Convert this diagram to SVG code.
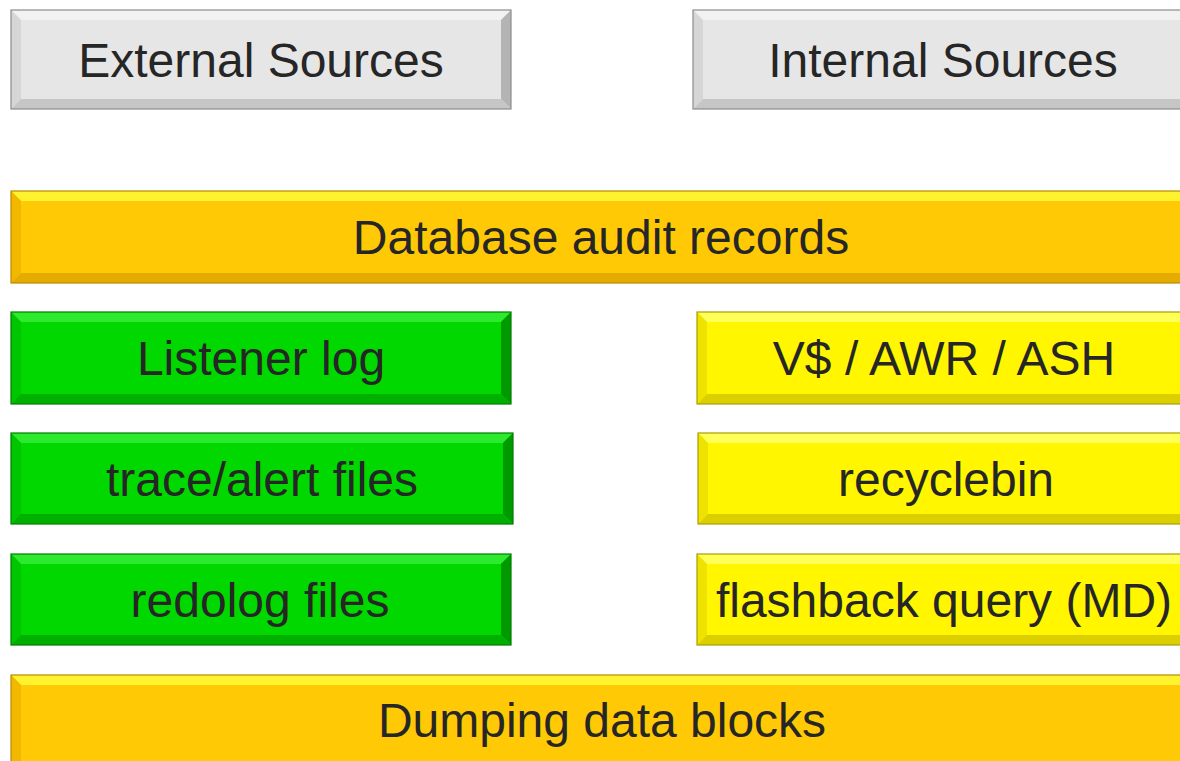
<svg xmlns="http://www.w3.org/2000/svg" width="1180" height="761" viewBox="0 0 1180 761">
  <style>
    text { font-family: "Liberation Sans", Arial, sans-serif; font-size: 48px; fill: #262626; text-anchor: middle; }
    .grey .base { fill: #e6e6e6; } .grey .top { fill: #f2f2f2; } .grey .left { fill: #d6d6d6; } .grey .right { fill: #b4b4b4; } .grey .bottom { fill: #c6c6c6; } .grey .edge { fill: none; stroke: #8c8c8c; stroke-width: 1.2; }
    .orange .base { fill: #ffc905; } .orange .top { fill: #fff22e; } .orange .left { fill: #f2b800; } .orange .right { fill: #d6a000; } .orange .bottom { fill: #e4ab00; } .orange .edge { fill: none; stroke: #b88a00; stroke-width: 1.2; }
    .green .base { fill: #00d800; } .green .top { fill: #2eea2e; } .green .left { fill: #00c600; } .green .right { fill: #009a00; } .green .bottom { fill: #00b000; } .green .edge { fill: none; stroke: #007c00; stroke-width: 1.2; }
    .yellow .base { fill: #fff600; } .yellow .top { fill: #ffff5a; } .yellow .left { fill: #eee200; } .yellow .right { fill: #c8bc00; } .yellow .bottom { fill: #dccf00; } .yellow .edge { fill: none; stroke: #a89e00; stroke-width: 1.2; }
  </style>

  <!-- beveled boxes: base, four bevel faces, outline, label -->
  <g id="external-sources" class="grey">
    <rect class="base" x="11" y="10" width="500" height="99"/>
    <polygon class="top" points="11,10 511,10 501,20 21,20"/>
    <polygon class="left" points="11,10 21,20 21,99 11,109"/>
    <polygon class="right" points="511,10 511,109 501,99 501,20"/>
    <polygon class="bottom" points="11,109 511,109 501,99 21,99"/>
    <rect class="edge" x="11" y="10" width="500" height="99"/>
    <text x="261" y="77">External Sources</text>
  </g>

  <g id="internal-sources" class="grey">
    <rect class="base" x="693" y="10" width="497" height="99"/>
    <polygon class="top" points="693,10 1190,10 1180,20 703,20"/>
    <polygon class="left" points="693,10 703,20 703,99 693,109"/>
    <polygon class="bottom" points="693,109 1190,109 1180,99 703,99"/>
    <rect class="edge" x="693" y="10" width="497" height="99"/>
    <text x="943" y="77">Internal Sources</text>
  </g>

  <g id="database-audit-records" class="orange">
    <rect class="base" x="11" y="191" width="1179" height="92"/>
    <polygon class="top" points="11,191 1190,191 1180,201 21,201"/>
    <polygon class="left" points="11,191 21,201 21,273 11,283"/>
    <polygon class="bottom" points="11,283 1190,283 1180,273 21,273"/>
    <rect class="edge" x="11" y="191" width="1179" height="92"/>
    <text x="601" y="254">Database audit records</text>
  </g>

  <g id="listener-log" class="green">
    <rect class="base" x="11" y="312" width="500" height="92"/>
    <polygon class="top" points="11,312 511,312 501,322 21,322"/>
    <polygon class="left" points="11,312 21,322 21,394 11,404"/>
    <polygon class="right" points="511,312 511,404 501,394 501,322"/>
    <polygon class="bottom" points="11,404 511,404 501,394 21,394"/>
    <rect class="edge" x="11" y="312" width="500" height="92"/>
    <text x="261" y="375">Listener log</text>
  </g>

  <g id="trace-alert-files" class="green">
    <rect class="base" x="11" y="433" width="502" height="91"/>
    <polygon class="top" points="11,433 513,433 503,443 21,443"/>
    <polygon class="left" points="11,433 21,443 21,514 11,524"/>
    <polygon class="right" points="513,433 513,524 503,514 503,443"/>
    <polygon class="bottom" points="11,524 513,524 503,514 21,514"/>
    <rect class="edge" x="11" y="433" width="502" height="91"/>
    <text x="262" y="496">trace/alert files</text>
  </g>

  <g id="redolog-files" class="green">
    <rect class="base" x="11" y="554" width="500" height="91"/>
    <polygon class="top" points="11,554 511,554 501,564 21,564"/>
    <polygon class="left" points="11,554 21,564 21,635 11,645"/>
    <polygon class="right" points="511,554 511,645 501,635 501,564"/>
    <polygon class="bottom" points="11,645 511,645 501,635 21,635"/>
    <rect class="edge" x="11" y="554" width="500" height="91"/>
    <text x="260" y="617">redolog files</text>
  </g>

  <g id="v-awr-ash" class="yellow">
    <rect class="base" x="697" y="312" width="493" height="92"/>
    <polygon class="top" points="697,312 1190,312 1180,322 707,322"/>
    <polygon class="left" points="697,312 707,322 707,394 697,404"/>
    <polygon class="bottom" points="697,404 1190,404 1180,394 707,394"/>
    <rect class="edge" x="697" y="312" width="493" height="92"/>
    <text x="944" y="375">V$ / AWR / ASH</text>
  </g>

  <g id="recyclebin" class="yellow">
    <rect class="base" x="698" y="433" width="492" height="91"/>
    <polygon class="top" points="698,433 1190,433 1180,443 708,443"/>
    <polygon class="left" points="698,433 708,443 708,514 698,524"/>
    <polygon class="bottom" points="698,524 1190,524 1180,514 708,514"/>
    <rect class="edge" x="698" y="433" width="492" height="91"/>
    <text x="946" y="496">recyclebin</text>
  </g>

  <g id="flashback-query" class="yellow">
    <rect class="base" x="697" y="554" width="493" height="91"/>
    <polygon class="top" points="697,554 1190,554 1180,564 707,564"/>
    <polygon class="left" points="697,554 707,564 707,635 697,645"/>
    <polygon class="bottom" points="697,645 1190,645 1180,635 707,635"/>
    <rect class="edge" x="697" y="554" width="493" height="91"/>
    <text x="944" y="617">flashback query (MD)</text>
  </g>

  <g id="dumping-data-blocks" class="orange">
    <rect class="base" x="11" y="675" width="1179" height="96"/>
    <polygon class="top" points="11,675 1190,675 1180,685 21,685"/>
    <polygon class="left" points="11,675 21,685 21,771 11,771"/>
    <rect class="edge" x="11" y="675" width="1179" height="96"/>
    <text x="602" y="737">Dumping data blocks</text>
  </g>

  <g id="connectors"/>
</svg>
